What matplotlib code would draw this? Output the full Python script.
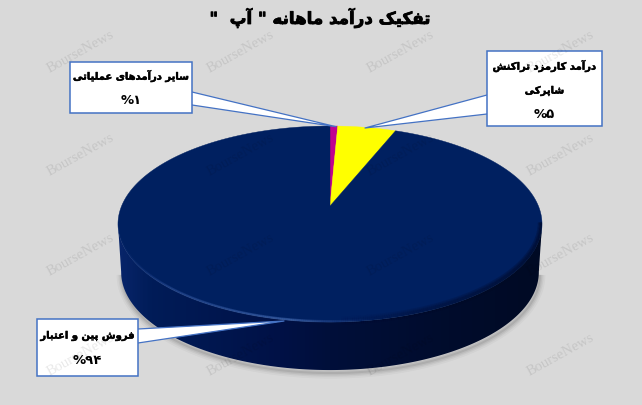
import numpy as np
import matplotlib
matplotlib.use("Agg")
import matplotlib.pyplot as plt
import matplotlib.patheffects as pe
from matplotlib.collections import LineCollection
from matplotlib.colors import LinearSegmentedColormap, to_rgb
from matplotlib.patches import Polygon

# ---- data
title_text = 'تفکیک درآمد ماهانه " آپ  "'
categories = ["سایر درآمدهای عملیاتی", "درآمد کارمزد تراکنش شاپرکی", "فروش پین و اعتبار"]
label_lines = [["سایر درآمدهای عملیاتی"], ["درآمد کارمزد تراکنش", "شاپرکی"], ["فروش پین و اعتبار"]]
percent_labels = ["۱%", "۵%", "۹۴%"]
shares = [0.7, 5.3, 94.0]
slice_colors = ["#C00090", "#FFFF00", "#002060"]
watermark = "BourseNews"

# ---- Arabic shaping (matplotlib draws glyphs one by one, left to right)
FORMS = {
    "ا": (0xFE8D, 0xFE8E), "آ": (0xFE81, 0xFE82), "د": (0xFEA9, 0xFEAA), "ر": (0xFEAD, 0xFEAE),
    "ز": (0xFEAF, 0xFEB0), "و": (0xFEED, 0xFEEE),
    "ب": (0xFE8F, 0xFE90, 0xFE91, 0xFE92), "پ": (0xFB56, 0xFB57, 0xFB58, 0xFB59),
    "ت": (0xFE95, 0xFE96, 0xFE97, 0xFE98), "س": (0xFEB1, 0xFEB2, 0xFEB3, 0xFEB4),
    "ش": (0xFEB5, 0xFEB6, 0xFEB7, 0xFEB8), "ع": (0xFEC9, 0xFECA, 0xFECB, 0xFECC),
    "ف": (0xFED1, 0xFED2, 0xFED3, 0xFED4), "ک": (0xFB8E, 0xFB8F, 0xFB90, 0xFB91),
    "ل": (0xFEDD, 0xFEDE, 0xFEDF, 0xFEE0), "م": (0xFEE1, 0xFEE2, 0xFEE3, 0xFEE4),
    "ن": (0xFEE5, 0xFEE6, 0xFEE7, 0xFEE8), "ه": (0xFEE9, 0xFEEA, 0xFEEB, 0xFEEC),
    "ی": (0xFBFC, 0xFBFD, 0xFBFE, 0xFBFF),
}


def shape(text):
    out = []
    for i, c in enumerate(text):
        if c not in FORMS:
            out.append(c)
            continue
        prev = text[i - 1] if i else ""
        nxt = text[i + 1] if i + 1 < len(text) else ""
        joins_prev = prev in FORMS and len(FORMS[prev]) == 4
        joins_next = nxt in FORMS and len(FORMS[c]) == 4
        f = FORMS[c]
        if joins_prev and joins_next:
            out.append(chr(f[3]))
        elif joins_prev:
            out.append(chr(f[1]))
        elif joins_next:
            out.append(chr(f[2]))
        else:
            out.append(chr(f[0]))
    return "".join(reversed(out))


def percent(text):
    return "%" + text[:-1]


# ---- figure in pixel coordinates
BG = "#D9D9D9"
fig = plt.figure(figsize=(6.42, 4.06), dpi=100, facecolor=BG)
ax = fig.add_axes([0, 0, 1, 1])
ax.set_xlim(0, 642)
ax.set_ylim(406, 0)
ax.axis("off")

CX, CY, A, B, K = 330.0, 207.0, 208.4, 94.7, 0.184
DEPTH, SHRINK = 48.0, 0.985


def project(theta):
    x, y = np.sin(theta), np.cos(theta)
    d = 1 + K * y
    return CX + A * x / d, CY - B * y / d


def lower(px, py):
    return CX + SHRINK * (px - CX), py + DEPTH


t = np.linspace(0, 2 * np.pi, 721)
tx, ty = project(t)
i_r, i_l = int(np.argmax(tx[:361])), 360 + int(np.argmin(tx[360:]))
front = t[i_r:i_l + 1]
fx, fy = project(front)
bx, by = lower(fx, fy)

# soft shadow under the disc
for w, al in [(8, 0.03), (5.5, 0.045), (3.5, 0.06), (1.5, 0.08)]:
    ax.plot(bx + 1, by + 3, color="black", lw=w, alpha=al, zorder=1, solid_capstyle="butt")

# side wall: horizontal gradient clipped to the band below the top face
stops = [(118, "#08256A"), (150, "#001C58"), (280, "#001146"), (330, "#000F3A"),
         (450, "#000C2C"), (542, "#000A24")]
cmap = LinearSegmentedColormap.from_list(
    "side", [((s[0] - 118) / (542 - 118), s[1]) for s in stops])
grad = np.linspace(0, 1, 424)[None, :]
im = ax.imshow(grad, cmap=cmap, extent=(118, 542, 376, 200), aspect="auto", zorder=2)
side = Polygon(np.r_[np.c_[fx, fy], np.c_[bx, by][::-1]], closed=True, transform=ax.transData)
im.set_clip_path(side)
ax.set_xlim(0, 642)
ax.set_ylim(406, 0)

# outline of the whole disc, keeps the rim shading inside it
back = np.r_[t[i_l:], t[1:i_r + 1]]
ox, oy = project(back)
disc = Polygon(np.r_[np.c_[bx, by], np.c_[ox, oy]], closed=True, transform=ax.transData)

# slices, clockwise from twelve o'clock
edges = np.r_[0, np.cumsum(shares)] / sum(shares) * 2 * np.pi
for start, stop, col in zip(edges[:-1], edges[1:], slice_colors):
    a = np.linspace(start, stop, max(3, int((stop - start) * 120)))
    px, py = project(a)
    ax.fill(np.r_[CX, px], np.r_[CY, py], color=col, lw=0.3, zorder=3)


# rim shading along the front edge of the top face
def rim(xs, ys, rim_stops, widths, alpha, z, dy=0.0):
    pts = np.c_[xs, ys + dy]
    segs = np.stack([pts[:-1], pts[1:]], axis=1)
    xm = 0.5 * (pts[:-1, 0] + pts[1:, 0])
    sx = [s[0] for s in rim_stops]
    rgb = np.array([to_rgb(s[1]) for s in rim_stops])
    cols = np.c_[[np.interp(xm, sx, rgb[:, k]) for k in range(3)]].T
    als = np.interp(xm, sx, [s[2] for s in rim_stops])
    for w in widths:
        rgba = np.c_[cols, als * alpha]
        lc = LineCollection(segs, colors=rgba, linewidths=w, zorder=z, capstyle="butt")
        ax.add_collection(lc)
        lc.set_clip_path(disc)


rim(fx, fy, [(118, "#001030", 0.0), (340, "#000A28", 0.0), (420, "#000A28", 0.5), (541, "#000A24", 1.0)],
    [6, 4, 2.5], 0.28, 4, dy=-1.5)
rim(fx, fy, [(120, "#1C3F90", 0.15), (170, "#3E62AE", 0.6), (290, "#5078C0", 0.9), (345, "#2F4F95", 0.45),
             (385, "#002060", 0.0), (541, "#002060", 0.0)],
    [1.8, 0.9], 0.45, 4, dy=-0.8)

# callouts: (box l, t, r, b), tail base on the box, tail tip
boxes = [(70, 63, 192, 114), (487, 52, 602, 127), (37, 320, 138, 377)]
tails = [((192, 93), (192, 106), (336, 127.7)),
         ((487, 96), (487, 115), (365, 129)),
         ((138, 330), (138, 344), (284, 322))]
EDGE = "#4472C4"
for (l, tp, r, bt), (p, q, tip) in zip(boxes, tails):
    ax.fill([p[0], tip[0], q[0]], [p[1], tip[1], q[1]], fc="white", ec="none", zorder=5)
    ax.plot([p[0], tip[0], q[0]], [p[1], tip[1], q[1]], color=EDGE, lw=0.9, zorder=5)
    ax.add_patch(plt.Rectangle((l, tp), r - l, bt - tp, fc="white", ec=EDGE, lw=1.1, zorder=6))

FONT = "DejaVu Sans"
heavy = [pe.withStroke(linewidth=0.35, foreground="black")]
line_y = [[77], [67, 92], [337]]
pct_y = [101, 115, 361]
for box, lines, ys, pct, yp in zip(boxes, label_lines, line_y, percent_labels, pct_y):
    xc = 0.5 * (box[0] + box[2])
    for line, y in zip(lines, ys):
        ax.text(xc, y, shape(line), family=FONT, weight="bold", fontsize=7.2, color="black",
                ha="center", va="center", zorder=7, path_effects=heavy)
    ax.text(xc, yp, percent(pct), family=FONT, weight="bold", fontsize=9.5, color="black",
            ha="center", va="center", zorder=7)

ax.text(320, 19, shape(title_text), family=FONT, weight="bold", fontsize=12, color="black",
        ha="center", va="center", zorder=7,
        path_effects=[pe.withStroke(linewidth=0.6, foreground="black")])

# watermark grid, over everything
for yc in [52, 155, 255, 355]:
    for xc in [81, 241, 401, 561]:
        ax.text(xc, yc, watermark, family="Liberation Serif", fontsize=10.5, color="black", alpha=0.09,
                rotation=29, rotation_mode="anchor", ha="center", va="center", zorder=8)

fig.savefig("out.png", dpi=100, facecolor=BG)
